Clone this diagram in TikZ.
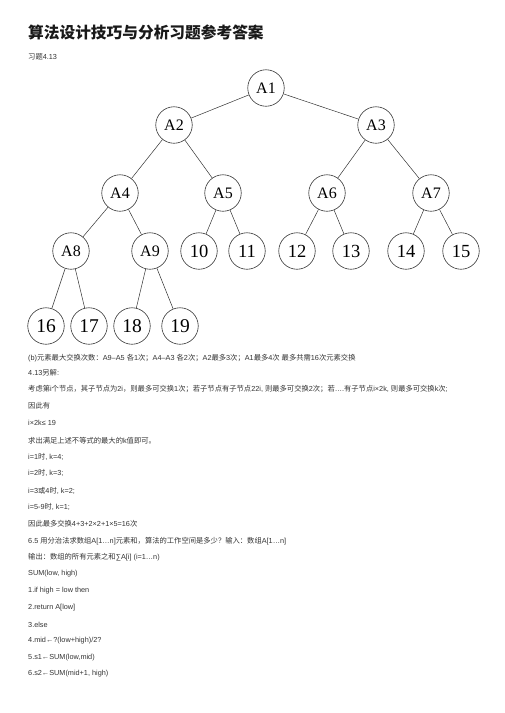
\documentclass[tikz,border=0pt]{standalone}
\usepackage{fontspec}
\setmainfont{Liberation Sans}
\newfontfamily\cjk{Noto Sans CJK SC}
\newfontfamily\serif{Liberation Serif}
\newcommand\C[1]{{\cjk #1}}
\begin{document}
\begin{tikzpicture}[x=1pt,y=-1pt,
  tn/.style={circle,draw=black!80,line width=0.6pt,minimum size=36.5pt,inner sep=0pt,font=\serif\fontsize{16}{16}\selectfont},
  tnum/.style={tn,font=\serif\fontsize{18.5}{18.5}\selectfont},
  tbig/.style={tn,font=\serif\fontsize{19.5}{19.5}\selectfont},
  edge/.style={draw=black!80,line width=0.5pt},
  txt/.style={anchor=west,inner sep=0pt,text=black!80,font=\fontsize{7.3}{8}\selectfont}]
\useasboundingbox (0,0) rectangle (504,713);
% title
\node[anchor=west,inner sep=0pt,text=black!90,font=\cjk\bfseries\fontsize{15.7}{16}\selectfont] (title) at (28,32) {算法设计技巧与分析习题参考答案};
\node[txt,font=\fontsize{7.3}{8}\selectfont] (sub) at (28,57) {\C{习题}4.13};
% tree
\node[tn] (A1) at (266,88) {A1};
\node[tn] (A2) at (174,125) {A2};
\node[tn] (A3) at (376,125) {A3};
\node[tn] (A4) at (120,193) {A4};
\node[tn] (A5) at (223,193) {A5};
\node[tn] (A6) at (327,193) {A6};
\node[tn] (A7) at (431,193) {A7};
\node[tn] (A8) at (71,251) {A8};
\node[tn] (A9) at (150,251) {A9};
\node[tnum] (n10) at (199,251) {10};
\node[tnum] (n11) at (247,251) {11};
\node[tnum] (n12) at (297,251) {12};
\node[tnum] (n13) at (351,251) {13};
\node[tnum] (n14) at (406,251) {14};
\node[tnum] (n15) at (461,251) {15};
\node[tbig] (n16) at (46,326) {16};
\node[tbig] (n17) at (89,326) {17};
\node[tbig] (n18) at (132,326) {18};
\node[tbig] (n19) at (180,326) {19};
\path[edge] (A1)--(A2) (A1)--(A3)
  (A2)--(A4) (A2)--(A5) (A3)--(A6) (A3)--(A7)
  (A4)--(A8) (A4)--(A9) (A5)--(n10) (A5)--(n11)
  (A6)--(n12) (A6)--(n13) (A7)--(n14) (A7)--(n15)
  (A8)--(n16) (A8)--(n17) (A9)--(n18) (A9)--(n19);
% text
\node[txt] (l1) at (28,358) {(b)\C{元素最大交换次数：}A9–A5 \C{各}1\C{次；}A4–A3 \C{各}2\C{次；}A2\C{最多}3\C{次；}A1\C{最多}4\C{次} \C{最多共需}16\C{次元素交换}};
\node[txt] (l2) at (28,373) {4.13\C{另解}:};
\node[txt] (l3) at (28,389) {\C{考虑第}i\C{个节点，其子节点为}2i\C{，则最多可交换}1\C{次；若子节点有子节点}22i, \C{则最多可交换}2\C{次；若}….\C{有子节点}i×2k, \C{则最多可交换}k\C{次};};
\node[txt] (l4) at (28,406) {\C{因此有}};
\node[txt] (l5) at (28,423) {i×2k≤ 19};
\node[txt] (l6) at (28,441) {\C{求出满足上述不等式的最大的}k\C{值即可。}};
\node[txt] (l7) at (28,457) {i=1\C{时}, k=4;};
\node[txt] (l8) at (28,473) {i=2\C{时}, k=3;};
\node[txt] (l9) at (28,491) {i=3\C{或}4\C{时}, k=2;};
\node[txt] (l10) at (28,507) {i=5-9\C{时}, k=1;};
\node[txt] (l11) at (28,524) {\C{因此最多交换}4+3+2×2+1×5=16\C{次}};
\node[txt] (l12) at (28,541) {6.5 \C{用分治法求数组}A[1…n]\C{元素和，算法的工作空间是多少？输入：数组}A[1…n]};
\node[txt] (l13) at (28,557) {\C{输出：数组的所有元素之和}∑A[i] (i=1…n)};
\node[txt] (l14) at (28,574) {SUM(low, high)};
\node[txt] (l15) at (28,591) {1.if high = low then};
\node[txt] (l16) at (28,608) {2.return A[low]};
\node[txt] (l17) at (28,625) {3.else};
\node[txt] (l18) at (28,641) {4.mid←?(low+high)/2?};
\node[txt] (l19) at (28,658) {5.s1←SUM(low,mid)};
\node[txt] (l20) at (28,674) {6.s2←SUM(mid+1, high)};
\end{tikzpicture}
\end{document}
